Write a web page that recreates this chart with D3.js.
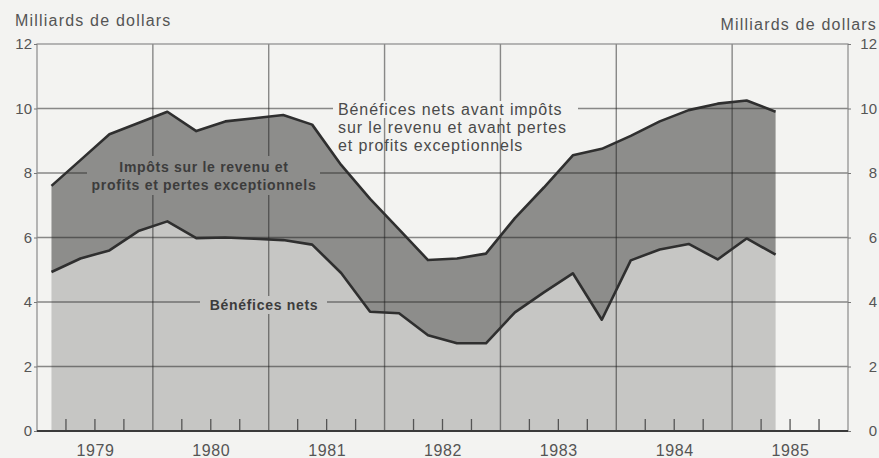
<!DOCTYPE html>
<html lang="fr">
<head>
    <meta charset="UTF-8">
    <title>Bénéfices</title>
    <script src="https://cdn.jsdelivr.net/npm/d3@7"></script>
    <style>
        body { margin: 0; background: #f3f3f1; }
        svg { display: block; font-family: 'Liberation Sans', Arial, sans-serif; }
        .lbl { fill: #555; font-size: 16px; letter-spacing: 1.2px; }
        .tick text { fill: #555; font-size: 15px; }
        .note { fill: #4a4a4a; font-size: 16px; letter-spacing: 0.9px; }
        .note-b { fill: #3c3c3c; font-size: 14px; font-weight: bold; letter-spacing: 0.7px; }
    </style>
</head>
<body>
<svg id="chart" width="879" height="458"></svg>
<script>
// trimestres 1979 T1 .. 1985 T2
const trimestres = ['1979 T1','1979 T2','1979 T3','1979 T4',
                    '1980 T1','1980 T2','1980 T3','1980 T4',
                    '1981 T1','1981 T2','1981 T3','1981 T4',
                    '1982 T1','1982 T2','1982 T3','1982 T4',
                    '1983 T1','1983 T2','1983 T3','1983 T4',
                    '1984 T1','1984 T2','1984 T3','1984 T4',
                    '1985 T1','1985 T2'];
// Bénéfices nets avant impôts et avant pertes/profits exceptionnels
const avantImpots = [7.6, 8.4, 9.2, 9.55,
                     9.9, 9.3, 9.6, 9.7,
                     9.8, 9.5, 8.25, 7.2,
                     6.25, 5.3, 5.35, 5.5,
                     6.6, 7.55, 8.55, 8.75,
                     9.15, 9.6, 9.95, 10.15,
                     10.25, 9.9];
// Bénéfices nets
const benefNets = [4.93, 5.35, 5.6, 6.2,
                   6.5, 5.98, 6.0, 5.96,
                   5.92, 5.78, 4.9, 3.7,
                   3.65, 2.97, 2.72, 2.72,
                   3.68, 4.3, 4.89, 3.45,
                   5.29, 5.63, 5.8, 5.32,
                   5.97, 5.47];
const annees = [1979, 1980, 1981, 1982, 1983, 1984, 1985];
const yTicks = [0, 2, 4, 6, 8, 10, 12];

const margin = {top: 44, right: 31, bottom: 27, left: 37};
const width = 879 - margin.left - margin.right;
const height = 458 - margin.top - margin.bottom;

const svg = d3.select('#chart');
const g = svg.append('g').attr('transform', `translate(${margin.left},${margin.top})`);

const x = d3.scaleLinear().domain([1979, 1986]).range([0, width]);
const y = d3.scaleLinear().domain([0, 12]).range([height, 0]);

// position d'un trimestre : milieu du trimestre
const tx = t => {
    const [a, q] = t.split(' T');
    return x(+a + (+q - 0.5) / 4);
};

const data = trimestres.map((t, i) => ({t, haut: avantImpots[i], bas: benefNets[i]}));

// zones
g.append('path')
    .datum(data)
    .attr('fill', '#c6c6c4')
    .attr('d', d3.area().x(d => tx(d.t)).y0(y(0)).y1(d => y(d.bas)));

g.append('path')
    .datum(data)
    .attr('fill', '#8d8d8b')
    .attr('d', d3.area().x(d => tx(d.t)).y0(d => y(d.bas)).y1(d => y(d.haut)));

// grille
const grid = g.append('g').attr('stroke', 'rgba(30,30,30,0.5)').attr('stroke-width', 1.4);
grid.selectAll('.h').data(yTicks.slice(1, -1)).join('line')
    .attr('x1', 0).attr('x2', width)
    .attr('y1', d => y(d)).attr('y2', d => y(d));
grid.selectAll('.v').data(annees.slice(1)).join('line')
    .attr('x1', d => x(d)).attr('x2', d => x(d))
    .attr('y1', 0).attr('y2', height);

// cadre
g.append('rect')
    .attr('width', width).attr('height', height)
    .attr('fill', 'none').attr('stroke', '#8a8a8a').attr('stroke-width', 1.2);

// petits traits trimestriels
const quarts = [];
annees.forEach(a => [1, 2, 3].forEach(q => quarts.push(a + q / 4)));
g.append('g').attr('stroke', '#555').attr('stroke-width', 1.3)
    .selectAll('line').data(quarts).join('line')
    .attr('x1', d => x(d)).attr('x2', d => x(d))
    .attr('y1', height).attr('y2', height - 12);

// caches derrière les étiquettes
g.append('rect').attr('x', 296).attr('y', 57).attr('width', 245).attr('height', 17).attr('fill', '#f3f3f1');
g.append('rect').attr('x', 50).attr('y', 112).attr('width', 233).attr('height', 39).attr('fill', '#8d8d8b');
g.append('rect').attr('x', 163).attr('y', 252).attr('width', 127).attr('height', 18).attr('fill', '#c6c6c4');

// courbes
g.append('path').datum(data)
    .attr('fill', 'none').attr('stroke', '#2f2f2f').attr('stroke-width', 2.6)
    .attr('stroke-linejoin', 'round')
    .attr('d', d3.line().x(d => tx(d.t)).y(d => y(d.haut)));
g.append('path').datum(data)
    .attr('fill', 'none').attr('stroke', '#2f2f2f').attr('stroke-width', 2.6)
    .attr('stroke-linejoin', 'round')
    .attr('d', d3.line().x(d => tx(d.t)).y(d => y(d.bas)));

// axe du bas
g.append('line')
    .attr('x1', 0).attr('x2', width).attr('y1', height).attr('y2', height)
    .attr('stroke', '#3a3a3a').attr('stroke-width', 2.2);

// axes
const yl = g.append('g').call(d3.axisLeft(y).tickValues(yTicks).tickSize(3).tickPadding(2));
yl.select('.domain').remove();
yl.selectAll('.tick line').attr('stroke', '#777');

const yr = g.append('g').attr('transform', `translate(${width},0)`)
    .call(d3.axisRight(y).tickValues(yTicks).tickSize(3).tickPadding(26));
yr.select('.domain').remove();
yr.selectAll('.tick line').attr('stroke', '#777');
yr.selectAll('.tick text').attr('text-anchor', 'end');

const xa = g.append('g').attr('transform', `translate(0,${height})`)
    .call(d3.axisBottom(x).tickValues(annees.map(a => a + 0.5)).tickFormat(d => Math.floor(d)).tickSize(0).tickPadding(14));
xa.select('.domain').remove();
xa.selectAll('.tick text').style('font-size', '16px').style('letter-spacing', '0.6px');

// titres des axes
svg.append('text').attr('class', 'lbl').attr('x', 15).attr('y', 26).text('Milliards de dollars');
svg.append('text').attr('class', 'lbl').attr('x', 877).attr('y', 30).attr('text-anchor', 'end').text('Milliards de dollars');

// annotations
const n1 = ['Bénéfices nets avant impôts', 'sur le revenu et avant pertes', 'et profits exceptionnels'];
g.append('text').attr('class', 'note')
    .selectAll('tspan').data(n1).join('tspan')
    .attr('x', 301).attr('y', (d, i) => 71 + i * 18).text(d => d);

const n2 = ['Impôts sur le revenu et', 'profits et pertes exceptionnels'];
g.append('text').attr('class', 'note-b').attr('text-anchor', 'middle')
    .selectAll('tspan').data(n2).join('tspan')
    .attr('x', 167).attr('y', (d, i) => 128 + i * 18).text(d => d);

g.append('text').attr('class', 'note-b').attr('text-anchor', 'middle')
    .attr('x', 227).attr('y', 266).text('Bénéfices nets');
</script>
</body>
</html>
